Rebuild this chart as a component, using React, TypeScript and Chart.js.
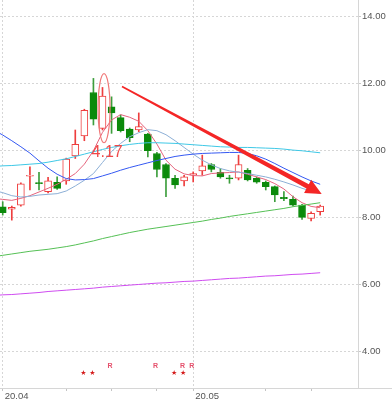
import React, { useEffect, useRef } from 'react';
import { Chart, registerables } from 'chart.js';

Chart.register(...registerables);

// ---------- data ----------
const openP = [8.33, 8.26, 8.38, 9.24, 9.05, 8.78, 9.06, 9.10, 9.85, 10.44, 11.74, 10.67, 11.31, 10.99, 10.65, 10.62, 10.50, 9.92, 9.59, 9.18, 9.10, 9.28, 9.40, 9.59, 9.36, 9.19, 9.18, 9.42, 9.18, 9.06, 8.93, 8.61, 8.55, 8.38, 7.98, 8.18];
const highP = [8.48, 8.35, 9.04, 9.52, 9.36, 9.21, 9.22, 9.78, 10.62, 11.24, 12.16, 11.89, 11.61, 11.07, 10.68, 11.13, 10.52, 9.95, 9.62, 9.27, 9.27, 9.37, 9.87, 9.62, 9.47, 9.27, 9.87, 9.47, 9.22, 9.10, 8.95, 8.78, 8.65, 8.40, 8.18, 8.38];
const lowP = [8.08, 7.93, 8.35, 8.83, 8.83, 8.74, 8.85, 9.00, 9.77, 10.30, 10.77, 10.62, 10.52, 10.56, 10.27, 10.57, 9.82, 9.22, 8.63, 8.88, 8.95, 9.07, 9.27, 9.37, 9.18, 9.03, 9.13, 9.10, 9.03, 8.83, 8.48, 8.51, 8.35, 7.95, 7.91, 8.08];
const closeP = [8.15, 8.31, 9.01, 9.27, 9.02, 9.10, 8.88, 9.75, 10.19, 11.21, 10.94, 11.63, 11.13, 10.60, 10.39, 10.72, 10.00, 9.44, 9.18, 8.98, 9.22, 9.32, 9.55, 9.44, 9.22, 9.16, 9.59, 9.13, 9.06, 8.93, 8.68, 8.57, 8.38, 8.01, 8.13, 8.35];

// moving-average lines, first value sits one bar left of the first candle (off-screen)
const ma5 = [8.58, 8.55, 8.52, 8.58, 8.66, 8.77, 8.88, 9.0, 9.15, 9.32, 9.6, 10.0, 10.55, 10.92, 11.08, 11.0, 10.88, 10.6, 10.2, 9.72, 9.45, 9.31, 9.26, 9.25, 9.32, 9.34, 9.35, 9.37, 9.3, 9.22, 9.14, 9.02, 8.86, 8.63, 8.45, 8.34, 8.3];
const ma10 = [8.82, 8.75, 8.66, 8.62, 8.64, 8.68, 8.7, 8.72, 8.8, 8.95, 9.12, 9.32, 9.65, 9.98, 10.22, 10.42, 10.54, 10.63, 10.6, 10.48, 10.3, 10.1, 9.9, 9.72, 9.58, 9.47, 9.4, 9.36, 9.32, 9.27, 9.22, 9.15, 9.07, 8.98, 8.88, 8.8, 8.72];
const ma20 = [10.62, 10.47, 10.3, 10.12, 9.93, 9.7, 9.48, 9.3, 9.17, 9.13, 9.14, 9.17, 9.25, 9.33, 9.42, 9.5, 9.57, 9.64, 9.71, 9.77, 9.83, 9.87, 9.9, 9.92, 9.93, 9.94, 9.95, 9.95, 9.92, 9.85, 9.75, 9.62, 9.48, 9.35, 9.22, 9.1, 9.0];
const ma30 = [9.53, 9.55, 9.56, 9.58, 9.6, 9.62, 9.66, 9.71, 9.76, 9.83, 9.9, 9.97, 10.04, 10.1, 10.15, 10.19, 10.22, 10.24, 10.24, 10.23, 10.22, 10.2, 10.18, 10.16, 10.14, 10.12, 10.11, 10.1, 10.1, 10.09, 10.08, 10.07, 10.05, 10.02, 10.0, 9.97, 9.94];
const ma60 = [6.84, 6.88, 6.92, 6.96, 7.0, 7.03, 7.06, 7.1, 7.14, 7.19, 7.25, 7.31, 7.38, 7.44, 7.5, 7.56, 7.61, 7.66, 7.7, 7.74, 7.78, 7.82, 7.86, 7.9, 7.95, 7.99, 8.04, 8.08, 8.12, 8.16, 8.2, 8.24, 8.28, 8.33, 8.37, 8.41, 8.45];
const ma120 = [5.68, 5.7, 5.71, 5.73, 5.75, 5.77, 5.8, 5.82, 5.84, 5.86, 5.88, 5.9, 5.93, 5.95, 5.97, 5.99, 6.01, 6.03, 6.05, 6.06, 6.08, 6.1, 6.11, 6.13, 6.15, 6.17, 6.19, 6.2, 6.22, 6.24, 6.26, 6.27, 6.29, 6.31, 6.32, 6.34, 6.36];

const yTicks = [4, 6, 8, 10, 12, 14];
const xTickIdx = [0, 7, 12, 17, 21, 29, 34];
const xTickLabels = ['20.04', '', '', '', '20.05', '', ''];

// signal markers under the candles
const starIdx = [9, 10, 19, 20];
const starLevel = 3.35;
const rIdx = [12, 17, 20, 21];
const rLevel = 3.57;

// annotations (data units)
const noteText = '4.17';
const noteAt = [9.8, 9.8];
const ellipseAt = [11.17, 11.27];
const ellipseRadius = [0.66, 1.03];
const arrowFrom = [13.15, 11.92];
const arrowTo = [35.17, 8.71];

const X_MIN = -0.3;
const X_MAX = 39.17;
const Y_MIN = 2.92;
const Y_MAX = 14.5;

const RED = '#ee3e3e';
const GREEN = '#0b8a0b';
const GREEN_WICK = '#3d9e3d';
const FONT = "'Liberation Sans', Arial, sans-serif";

const candleIdx = openP.map((_, i) => i);
const lineIdx = ma5.map((_, k) => k - 1);

const annotPlugin = {
  id: 'annot',
  afterDatasetsDraw(chart: any) {
    const { ctx, scales, chartArea } = chart;
    const x = scales.x;
    const y = scales.y;
    ctx.save();

    // ellipse around the marked candle
    const cx = x.getPixelForValue(ellipseAt[0]);
    const cy = y.getPixelForValue(ellipseAt[1]);
    const rx = Math.abs(x.getPixelForValue(ellipseAt[0] + ellipseRadius[0]) - cx);
    const ry = Math.abs(y.getPixelForValue(ellipseAt[1] + ellipseRadius[1]) - cy);
    ctx.beginPath();
    ctx.ellipse(cx, cy, rx, ry, 0, 0, Math.PI * 2);
    ctx.strokeStyle = '#f07878';
    ctx.lineWidth = 1.2;
    ctx.stroke();

    // note text
    ctx.font = `16px ${FONT}`;
    ctx.fillStyle = '#f04848';
    ctx.textAlign = 'left';
    ctx.textBaseline = 'alphabetic';
    ctx.fillText(noteText, x.getPixelForValue(noteAt[0]), y.getPixelForValue(noteAt[1]));

    // tapered arrow
    const p0x = x.getPixelForValue(arrowFrom[0]);
    const p0y = y.getPixelForValue(arrowFrom[1]);
    const p1x = x.getPixelForValue(arrowTo[0]);
    const p1y = y.getPixelForValue(arrowTo[1]);
    const dx = p1x - p0x;
    const dy = p1y - p0y;
    const len = Math.hypot(dx, dy);
    const ux = dx / len;
    const uy = dy / len;
    const nx = -uy;
    const ny = ux;
    const hl = 16;
    const hw = 7.5;
    const w0 = 1.6;
    const w1 = 5;
    const bx = p1x - ux * hl;
    const by = p1y - uy * hl;
    ctx.fillStyle = '#f42626';
    ctx.beginPath();
    ctx.moveTo(p0x + nx * w0 / 2, p0y + ny * w0 / 2);
    ctx.lineTo(bx + nx * w1 / 2, by + ny * w1 / 2);
    ctx.lineTo(bx + nx * hw, by + ny * hw);
    ctx.lineTo(p1x, p1y);
    ctx.lineTo(bx - nx * hw, by - ny * hw);
    ctx.lineTo(bx - nx * w1 / 2, by - ny * w1 / 2);
    ctx.lineTo(p0x - nx * w0 / 2, p0y - ny * w0 / 2);
    ctx.closePath();
    ctx.fill();

    // markers
    ctx.textAlign = 'center';
    ctx.textBaseline = 'middle';
    ctx.font = `7px 'DejaVu Sans', sans-serif`;
    ctx.fillStyle = '#d41a1a';
    starIdx.forEach((i) => {
      ctx.fillText('★', x.getPixelForValue(i) - 1, y.getPixelForValue(starLevel));
    });
    ctx.font = `bold 7px ${FONT}`;
    ctx.fillStyle = '#e5506c';
    rIdx.forEach((i) => {
      ctx.fillText('R', x.getPixelForValue(i) - 1.5, y.getPixelForValue(rLevel));
    });

    // bottom rule continues under the price labels
    ctx.strokeStyle = '#d6d6d6';
    ctx.lineWidth = 1;
    ctx.beginPath();
    ctx.moveTo(chartArea.right, Math.round(chartArea.bottom) + 0.5);
    ctx.lineTo(chart.width, Math.round(chartArea.bottom) + 0.5);
    ctx.stroke();

    ctx.restore();
  },
};

function lineDs(values: number[], color: string) {
  return {
    type: 'line' as const,
    data: values.map((v, k) => ({ x: lineIdx[k], y: v })),
    borderColor: color,
    borderWidth: 1,
    pointRadius: 0,
    tension: 0,
    fill: false,
    order: 0,
  };
}

export default function App() {
  const ref = useRef<HTMLCanvasElement | null>(null);

  useEffect(() => {
    document.body.style.margin = '0';
    const canvas = ref.current;
    if (!canvas) return;
    const up = candleIdx.map((i) => closeP[i] >= openP[i]);

    const chart = new Chart(canvas, {
      type: 'bar',
      data: {
        datasets: [
          lineDs(ma120, '#cf4cf0'),
          lineDs(ma60, '#55c055'),
          lineDs(ma30, '#3ec8e6'),
          lineDs(ma20, '#3458f2'),
          lineDs(ma10, '#8cafd6'),
          lineDs(ma5, '#e5637c'),
          {
            type: 'bar',
            data: candleIdx.map((i) => ({ x: i, y: [openP[i], closeP[i]] })),
            backgroundColor: up.map((u) => (u ? '#ffffff' : GREEN)),
            borderColor: up.map((u) => (u ? RED : GREEN)),
            borderWidth: 1,
            borderSkipped: false,
            barThickness: 7,
            minBarLength: 1,
            grouped: false,
            order: 1,
          } as any,
          {
            type: 'bar',
            data: candleIdx.map((i) => ({ x: i, y: [lowP[i], highP[i]] })),
            backgroundColor: up.map((u) => (u ? RED : GREEN_WICK)),
            borderWidth: 0,
            barThickness: 1,
            grouped: false,
            order: 2,
          } as any,
        ],
      },
      options: {
        responsive: false,
        animation: false,
        devicePixelRatio: 1,
        events: [],
        layout: { padding: 0 },
        plugins: {
          legend: { display: false },
          tooltip: { enabled: false },
        },
        scales: {
          x: {
            type: 'linear',
            min: X_MIN,
            max: X_MAX,
            offset: false,
            afterBuildTicks: (s: any) => {
              s.ticks = xTickIdx.map((v) => ({ value: v }));
            },
            afterFit: (s: any) => {
              s.height = 13;
              s.paddingLeft = 0;
              s.paddingRight = 0;
            },
            ticks: {
              autoSkip: false,
              maxRotation: 0,
              minRotation: 0,
              align: 'start',
              labelOffset: 2,
              padding: 0,
              color: '#555555',
              font: { family: FONT, size: 9.5 },
              callback: (v: any) => {
                const k = xTickIdx.indexOf(Number(v));
                return k >= 0 ? xTickLabels[k] : '';
              },
            },
            grid: {
              offset: false,
              drawOnChartArea: true,
              drawTicks: true,
              tickLength: 3,
              tickColor: '#c4c4c4',
              color: (c: any) => {
                const k = c.tick ? xTickIdx.indexOf(c.tick.value) : -1;
                return k >= 0 && xTickLabels[k] ? '#d6d6d6' : 'rgba(0,0,0,0)';
              },
            },
            border: { display: true, color: '#d6d6d6', dash: [2, 2] },
          },
          y: {
            type: 'linear',
            position: 'right',
            min: Y_MIN,
            max: Y_MAX,
            beginAtZero: false,
            afterBuildTicks: (s: any) => {
              s.ticks = yTicks.map((v) => ({ value: v }));
            },
            afterFit: (s: any) => {
              s.width = 34;
              s.paddingTop = 0;
              s.paddingBottom = 0;
            },
            ticks: {
              padding: 1,
              color: '#555555',
              font: { family: FONT, size: 9.5 },
              callback: (v: any) => Number(v).toFixed(2),
            },
            grid: {
              color: '#d6d6d6',
              tickLength: 3,
              tickColor: '#c8c8c8',
            },
            border: { display: true, color: '#d6d6d6', dash: [2, 2] },
          },
        },
      } as any,
      plugins: [annotPlugin],
    });

    return () => chart.destroy();
  }, []);

  return (
    <div style={{ width: 392, height: 401, position: 'relative', background: '#ffffff' }}>
      <canvas ref={ref} width={392} height={401} style={{ display: 'block' }} />
    </div>
  );
}
